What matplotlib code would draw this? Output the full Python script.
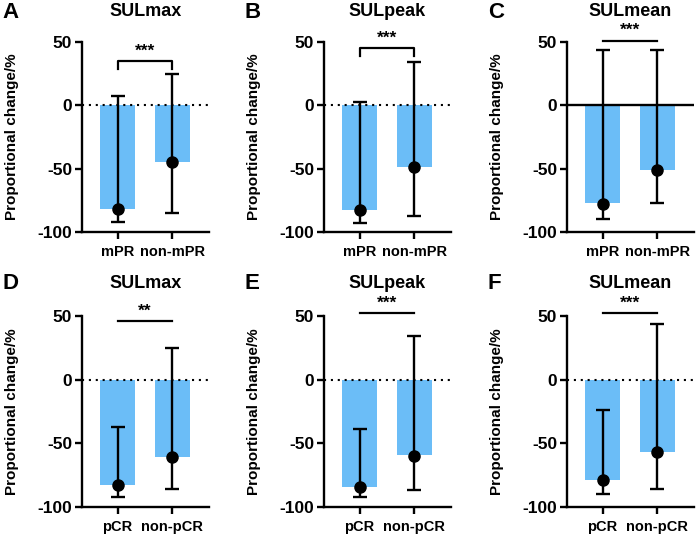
import numpy as np
import matplotlib
matplotlib.use('Agg')
from matplotlib import pyplot as plt

plt.rcParams['font.family'] = ['Liberation Sans', 'DejaVu Sans']
plt.rcParams['font.weight'] = 'bold'
plt.rcParams['axes.unicode_minus'] = False

# panel data: bar height, dot (median), error bar top, error bar bottom
letters = ['A', 'B', 'C', 'D', 'E', 'F']
titles = ['SULmax', 'SULpeak', 'SULmean', 'SULmax', 'SULpeak', 'SULmean']
groups_top = ['mPR', 'non-mPR']
groups_bottom = ['pCR', 'non-pCR']

bars = [[-82, -45], [-83, -49], [-77, -51], [-83, -61], [-84, -59], [-79, -57]]
dots = [[-82, -45], [-83, -49], [-78, -51], [-83, -61], [-84, -60], [-79, -57]]
err_top = [[7, 25], [3, 34], [44, 44], [-37, 25], [-39, 34], [-24, 44]]
err_bot = [[-92, -85], [-93, -87], [-90, -77], [-92, -86], [-92, -87], [-90, -86]]

stars = ['***', '***', '***', '**', '***', '***']
sig_y = [35, 45, 51, 46, 52, 52]
sig_ticks = [True, True, False, False, False, False]
solid_zero = [False, False, True, False, False, False]

fig = plt.figure(figsize=(7.0, 5.37), dpi=100)

lefts = [82, 324, 567]
for i in range(6):
    row, col = divmod(i, 3)
    left = lefts[col] / 700
    if row == 0:
        bottom, top = 1 - 232 / 537, 1 - 42 / 537
    else:
        bottom, top = 1 - 507 / 537, 1 - 316 / 537
    ax = fig.add_axes([left, bottom, 127 / 700, top - bottom])
    x = np.arange(2)
    ax.bar(x, bars[i], width=0.65, color='#6BBDF7', zorder=1)
    lo = np.array(dots[i]) - np.array(err_bot[i])
    hi = np.array(err_top[i]) - np.array(dots[i])
    ax.errorbar(x, dots[i], yerr=[lo, hi], fmt='o', color='black', ms=8,
                elinewidth=1.7, capsize=4.8, capthick=1.7, zorder=3)
    if solid_zero[i]:
        ax.axhline(0, color='black', lw=1.7, zorder=2)
    else:
        ax.axhline(0, color='black', lw=1.5, ls=(0, (1, 2.3)), zorder=2)
    ax.set_xlim(-0.65, 1.67)
    ax.set_ylim(-100, 50)
    ax.set_yticks([-100, -50, 0, 50])
    ax.set_xticks(x)
    ax.set_xticklabels(groups_top if row == 0 else groups_bottom)
    for s in ['top', 'right']:
        ax.spines[s].set_visible(False)
    for s in ['left', 'bottom']:
        ax.spines[s].set_linewidth(1.7)
    ax.tick_params(width=1.7, length=5, pad=2)
    ax.tick_params(axis='y', labelsize=12.5)
    ax.tick_params(axis='x', labelsize=10.5, pad=4)
    ax.set_ylabel('Proportional change/%', fontsize=11, fontweight='bold', labelpad=13)
    ax.set_title(titles[i], fontsize=13, fontweight='bold', pad=19 if row == 0 else 20)
    # significance marker
    yy = sig_y[i]
    if sig_ticks[i]:
        ax.plot([0, 0, 1, 1], [yy - 6, yy, yy, yy - 6], color='black', lw=1.6, clip_on=False)
    else:
        ax.plot([0, 1], [yy, yy], color='black', lw=1.6, clip_on=False)
    ax.text(0.5, yy + 2, stars[i], ha='center', va='bottom', fontsize=12.5,
            fontweight='bold', clip_on=False)
    fig.text(lefts[col] / 700 - 0.113, top + (0.055 if row == 0 else 0.06),
             letters[i], fontsize=16, fontweight='bold', ha='left', va='center')

fig.savefig('out.png', dpi=100)
